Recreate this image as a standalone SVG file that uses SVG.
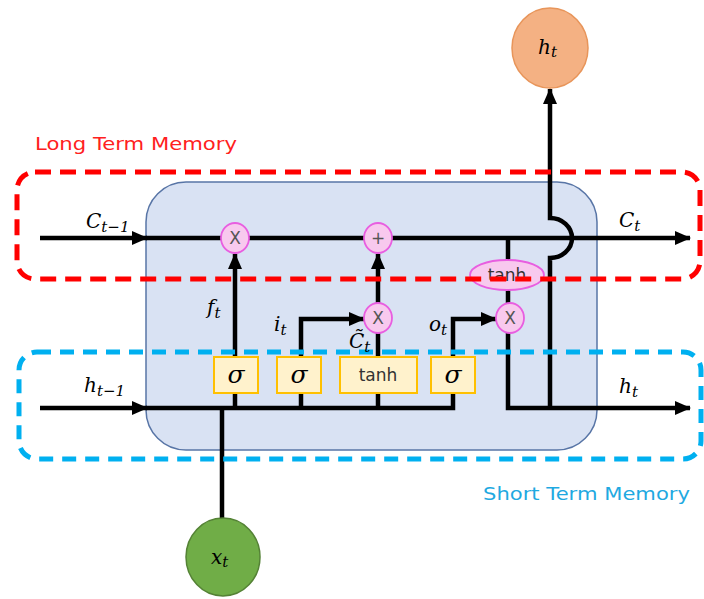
<svg xmlns="http://www.w3.org/2000/svg" width="704" height="599" viewBox="0 0 704 599">
  <style>
    .wire { fill: none; stroke: #000; stroke-width: 4.5; }
    .arrow { fill: none; stroke: #000; stroke-width: 4.5; marker-end: url(#ah); }
    .op { fill: #f8c9ee; stroke: #e85ee0; stroke-width: 1.8; }
    .opt { font-family: "DejaVu Sans", sans-serif; font-size: 17px; fill: #555; text-anchor: middle; }
    .gate { fill: #fff2cc; stroke: #ffc000; stroke-width: 2; }
    .sig { font-family: "DejaVu Serif", serif; font-style: italic; font-size: 25px; fill: #000; text-anchor: middle; }
    .tanh { font-family: "DejaVu Sans", sans-serif; font-size: 17px; fill: #333; text-anchor: middle; }
    .math { font-family: "DejaVu Serif", serif; font-style: italic; font-size: 20px; fill: #000; }
    .sub { font-size: 15px; }
    .lt { fill: none; stroke: #ff0000; stroke-width: 5; stroke-dasharray: 16 9; }
    .st { fill: none; stroke: #00b0f0; stroke-width: 5; stroke-dasharray: 14 9; }
  </style>
  <defs>
    <marker id="ah" markerUnits="userSpaceOnUse" markerWidth="16" markerHeight="14" refX="15" refY="7" orient="auto">
      <path d="M0,0 L16,7 L0,14 Z" fill="#000"/>
    </marker>
  </defs>

  <rect width="704" height="599" fill="#fff"/>

  <!-- LSTM cell body -->
  <g id="cell">
    <rect x="146" y="182" width="451" height="268" rx="40" fill="#d9e2f3" stroke="#5875a6" stroke-width="1.5"/>
  </g>

  <!-- connectors -->
  <g id="connectors">
    <!-- cell state path -->
    <line class="arrow" x1="40" y1="238" x2="147" y2="238"/>
    <line class="arrow" x1="146" y1="238" x2="690" y2="238"/>
    <!-- hidden state input path -->
    <line class="arrow" x1="40" y1="408" x2="147" y2="408"/>
    <polyline class="wire" points="146,408 453,408 453,392"/>
    <line class="wire" x1="235" y1="408" x2="235" y2="392"/>
    <line class="wire" x1="301" y1="408" x2="301" y2="392"/>
    <line class="wire" x1="378" y1="408" x2="378" y2="392"/>
    <line class="wire" x1="222" y1="408" x2="222" y2="520"/>
    <!-- forget gate -->
    <line class="arrow" x1="235" y1="357" x2="235" y2="254"/>
    <!-- input gate -->
    <polyline class="arrow" points="301,357 301,319 364,319"/>
    <line class="wire" x1="378" y1="357" x2="378" y2="333"/>
    <line class="arrow" x1="378" y1="303" x2="378" y2="254"/>
    <!-- output gate -->
    <polyline class="arrow" points="453,357 453,319 496,319"/>
    <line class="wire" x1="508" y1="238" x2="508" y2="262"/>
    <line class="wire" x1="508" y1="288" x2="508" y2="304"/>
    <polyline class="arrow" points="508,333 508,408 690,408"/>
    <!-- output h_t upward, hopping over the cell state line -->
    <path class="arrow" d="M550,408 L550,258 A22,20 0 0 0 550,218 L550,89"/>
  </g>

  <!-- pointwise operations -->
  <g id="mul-forget">
    <ellipse class="op" cx="235" cy="238" rx="14" ry="15"/>
    <text class="opt" x="235" y="244">X</text>
  </g>
  <g id="add-cell">
    <ellipse class="op" cx="378" cy="238" rx="14" ry="15"/>
    <text class="opt" x="378" y="244">+</text>
  </g>
  <g id="mul-input">
    <ellipse class="op" cx="378" cy="318" rx="14" ry="15"/>
    <text class="opt" x="378" y="324">X</text>
  </g>
  <g id="mul-output">
    <ellipse class="op" cx="510" cy="318" rx="14" ry="15"/>
    <text class="opt" x="510" y="324">X</text>
  </g>
  <g id="tanh-cell">
    <ellipse class="op" cx="507" cy="275" rx="37" ry="15"/>
    <text class="tanh" x="507" y="281" font-size="16">tanh</text>
  </g>

  <!-- gate layers -->
  <g id="gate-forget">
    <rect class="gate" x="214" y="357" width="44" height="36"/>
    <text class="sig" x="236" y="383">σ</text>
  </g>
  <g id="gate-input">
    <rect class="gate" x="277" y="357" width="44" height="36"/>
    <text class="sig" x="299" y="383">σ</text>
  </g>
  <g id="gate-candidate">
    <rect class="gate" x="340" y="357" width="77" height="36"/>
    <text class="tanh" x="378" y="381">tanh</text>
  </g>
  <g id="gate-output">
    <rect class="gate" x="431" y="357" width="44" height="36"/>
    <text class="sig" x="453" y="383">σ</text>
  </g>

  <!-- input and output nodes -->
  <g id="node-x">
    <ellipse cx="223" cy="557" rx="37" ry="39" fill="#70ad47" stroke="#548235" stroke-width="1.5"/>
    <text class="math" x="211" y="564">x<tspan class="sub" dy="3">t</tspan></text>
  </g>
  <g id="node-h">
    <ellipse cx="550" cy="48" rx="38" ry="40" fill="#f4b183" stroke="#e8955a" stroke-width="1.5"/>
    <text class="math" x="538" y="54">h<tspan class="sub" dy="3">t</tspan></text>
  </g>

  <!-- memory regions -->
  <g id="long-term">
    <rect class="lt" x="17" y="172" width="683" height="107" rx="18"/>
    <text x="35" y="150" font-family="DejaVu Sans, sans-serif" font-size="18" fill="#ff2020" textLength="202" lengthAdjust="spacingAndGlyphs">Long Term Memory</text>
  </g>
  <g id="short-term">
    <rect class="st" x="19" y="352" width="682" height="107" rx="18"/>
    <text x="483" y="500" font-family="DejaVu Sans, sans-serif" font-size="18" fill="#1fa9e1" textLength="207" lengthAdjust="spacingAndGlyphs">Short Term Memory</text>
  </g>

  <!-- signal labels -->
  <g id="labels">
    <text class="math" x="86" y="228">C<tspan class="sub" dy="4">t−1</tspan></text>
    <text class="math" x="619" y="227">C<tspan class="sub" dy="4">t</tspan></text>
    <text class="math" x="84" y="392">h<tspan class="sub" dy="4">t−1</tspan></text>
    <text class="math" x="619" y="393">h<tspan class="sub" dy="4">t</tspan></text>
    <text class="math" x="207" y="314">f<tspan class="sub" dy="4">t</tspan></text>
    <text class="math" x="274" y="331">i<tspan class="sub" dy="4">t</tspan></text>
    <text class="math" x="349" y="348">C̃<tspan class="sub" dy="4">t</tspan></text>
    <text class="math" x="429" y="331">o<tspan class="sub" dy="4">t</tspan></text>
  </g>
</svg>
